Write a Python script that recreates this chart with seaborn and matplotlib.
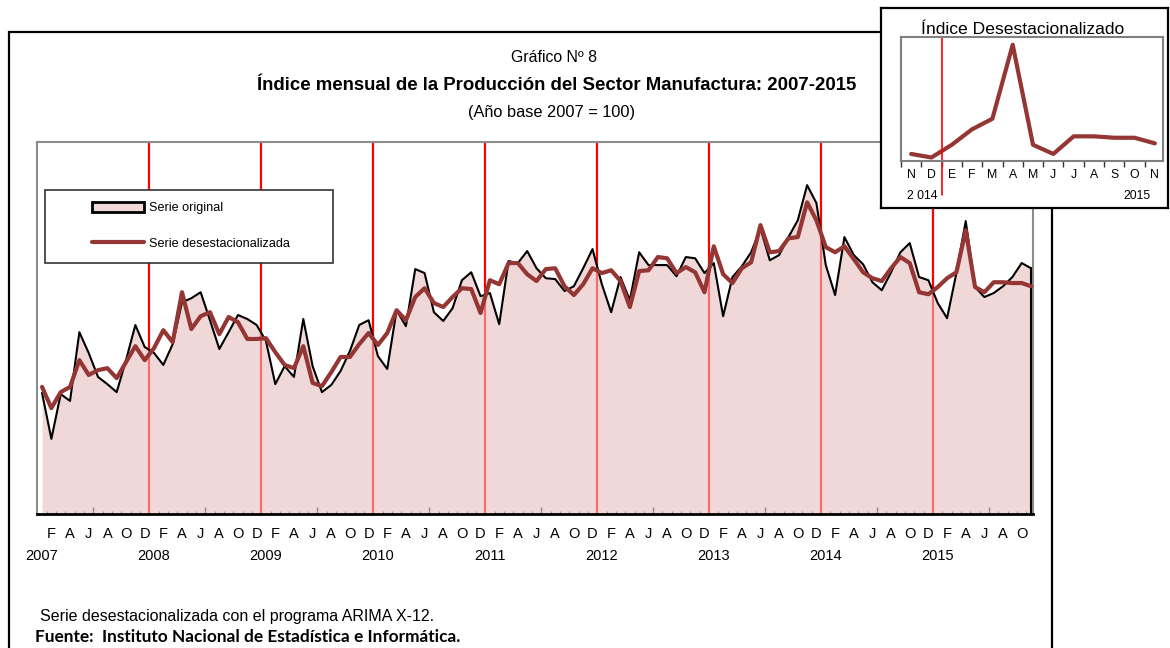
import numpy as np
import matplotlib
matplotlib.use("Agg")
import matplotlib.pyplot as plt
import seaborn as sns
from matplotlib.patches import Patch, Rectangle
from matplotlib.lines import Line2D

# Monthly index, Jan 2007 - Nov 2015 (base 2007 = 100)
SERIE_ORIGINAL = [
    94.8, 83.3, 94.5, 92.8, 110.0, 104.8, 98.8, 97.0, 95.0, 103.0, 111.8, 106.3,
    104.8, 101.8, 107.0, 117.5, 118.5, 120.0, 113.0, 105.8, 110.0, 114.3, 113.3, 111.8,
    107.8, 97.0, 101.5, 98.8, 113.3, 101.5, 95.0, 96.8, 100.3, 105.3, 111.8, 113.0,
    104.0, 100.8, 115.5, 111.5, 125.8, 124.8, 115.0, 112.8, 116.0, 123.0, 125.0, 119.0,
    119.8, 112.0, 127.8, 127.3, 130.3, 126.0, 123.5, 123.3, 120.3, 121.5, 126.0, 130.8,
    122.0, 115.0, 123.8, 118.0, 130.0, 126.8, 126.8, 126.8, 124.0, 128.8, 128.5, 124.8,
    127.3, 114.0, 123.8, 126.5, 130.0, 136.0, 128.0, 129.3, 133.8, 138.0, 146.8, 142.3,
    126.8, 119.3, 133.8, 129.3, 127.0, 122.5, 120.5, 125.0, 130.0, 132.3, 123.8, 123.0,
    117.3, 113.5, 124.8, 137.8, 121.3, 118.8, 119.8, 121.5, 123.8, 127.3, 126.0,
]
SERIE_DESEST = [
    96.3, 91.0, 95.0, 96.3, 103.0, 99.3, 100.5, 101.0, 98.5, 102.5, 106.5, 103.0,
    106.0, 110.5, 107.5, 120.0, 110.8, 114.0, 115.0, 109.5, 113.8, 112.5, 108.3, 108.3,
    108.5, 105.0, 101.8, 101.0, 106.5, 97.3, 96.5, 100.0, 103.8, 103.8, 107.0, 109.8,
    106.8, 109.8, 115.5, 113.0, 118.8, 121.0, 117.3, 116.3, 118.8, 121.0, 120.8, 114.8,
    123.0, 122.0, 127.3, 127.3, 124.5, 122.8, 125.8, 126.0, 121.5, 119.3, 122.0, 126.0,
    124.8, 125.5, 122.8, 116.3, 125.3, 125.5, 128.8, 128.5, 124.8, 126.3, 125.0, 120.0,
    131.5, 124.5, 122.3, 126.0, 127.5, 136.8, 130.0, 130.3, 133.5, 133.8, 142.5, 138.0,
    131.3, 130.0, 131.5, 128.3, 125.0, 123.5, 122.8, 126.0, 128.8, 127.3, 120.0, 119.5,
    121.3, 123.5, 125.0, 135.5, 121.3, 120.0, 122.5, 122.5, 122.3, 122.3, 121.5,
]
YEARS = list(range(2007, 2016))
MONTH_LABELS = ["F", "A", "J", "A", "O", "D"]   # every second month
INSET_LABELS = ["N", "D", "E", "F", "M", "A", "M", "J", "J", "A", "S", "O", "N"]
INSET_YEARS = ["2 014", "2015"]

BROWN = "#943634"
PINK = (0.898, 0.745, 0.737)
W, H = 1170, 648


def fx(px):
    return px / W


def fy(py):
    return 1 - py / H


sns.set_style("white")
plt.rcParams["font.family"] = ["Liberation Sans", "DejaVu Sans"]
plt.rcParams["text.color"] = "black"
plt.rcParams["xtick.color"] = "black"
plt.rcParams["xtick.labelcolor"] = "black"

fig = plt.figure(figsize=(W / 100, H / 100), dpi=100)

# outer frame of the page
bg = fig.add_axes([0, 0, 1, 1], zorder=0)
bg.set_xlim(0, W)
bg.set_ylim(H, 0)
bg.axis("off")
bg.plot([9, 9, 881], [H, 32, 32], color="black", lw=1.6, solid_joinstyle="miter")
bg.plot([1052, 1052], [208, H], color="black", lw=1.6)

# ── main chart ──────────────────────────────────────────
ax = fig.add_axes([fx(37), fy(514), fx(1033) - fx(37), fy(142) - fy(514)], zorder=1)
x = np.arange(len(SERIE_ORIGINAL))
ymin, ymax = 64.5, 157.6

for k in range(1, len(YEARS)):
    ax.axvline(12 * k - 0.5, color="#ff0000", lw=1.6, zorder=1)

ax.fill_between(x, SERIE_ORIGINAL, ymin, color=PINK, alpha=0.59, lw=0, zorder=2)
sns.lineplot(x=x, y=SERIE_ORIGINAL, color="black", lw=1.5, ax=ax, zorder=3)
ax.plot([x[-1], x[-1]], [SERIE_ORIGINAL[-1], ymin], color="black", lw=1.5, zorder=3)
sns.lineplot(x=x, y=SERIE_DESEST, color=BROWN, lw=3, ax=ax, zorder=4)

ax.set_xlim(-0.54, 106.21)
ax.set_ylim(ymin, ymax)
ax.set_xlabel("")
ax.set_ylabel("")
ax.set_yticks([])
for s in ["left", "top", "right"]:
    ax.spines[s].set_color("#8c8c8c")
    ax.spines[s].set_linewidth(1.5)
ax.spines["bottom"].set_color("black")
ax.spines["bottom"].set_linewidth(2)

month_pos = np.arange(1, len(x), 2)
ax.set_xticks(month_pos)
ax.set_xticklabels([MONTH_LABELS[i % 6] for i in range(len(month_pos))])
ax.set_xticks(x[:-1] + 0.5, minor=True)
ax.tick_params(axis="x", which="major", bottom=True, length=0, pad=9, labelsize=10.5)
ax.tick_params(axis="x", which="minor", bottom=True, direction="in", length=2.5,
               width=0.8, color="#555555")
sec = ax.secondary_xaxis("bottom")
sec.set_xticks(5.5 + 12 * np.arange(len(YEARS)))
sec.tick_params(direction="in", length=5, width=1, color="#333333", labelbottom=False)
sec.spines["bottom"].set_visible(False)

for k, yr in enumerate(YEARS):
    ax.text(12 * k, -0.113, str(yr), transform=ax.get_xaxis_transform(),
            ha="center", va="center", fontsize=10.5)

# legend
ax.add_patch(Rectangle((0.008, 0.675), 0.289, 0.196, transform=ax.transAxes,
                       facecolor="white", edgecolor="#333333", lw=1.2, zorder=5))
handles = [Patch(facecolor="#f0d9d8", edgecolor="black", lw=2),
           Line2D([], [], color=BROWN, lw=3)]
leg = ax.legend(handles, ["Serie original", "Serie desestacionalizada"],
                loc="center left", bbox_to_anchor=(0.0552, 0.774), frameon=False,
                borderpad=0, borderaxespad=0, fontsize=9.1, labelspacing=1.85,
                handlelength=4.1, handletextpad=0.4, handleheight=0.75)
leg.set_zorder(6)

# titles and notes
fig.text(fx(554), fy(57), "Gráfico Nº 8", ha="center", va="center", fontsize=11.4)
fig.text(fx(557), fy(85), "Índice mensual de la Producción del Sector Manufactura: 2007-2015",
         ha="center", va="center", fontsize=13.4, fontweight="bold")
fig.text(fx(552), fy(112), "(Año base 2007 = 100)", ha="center", va="center", fontsize=11.8)
fig.text(fx(40), fy(617), "Serie desestacionalizada con el programa ARIMA X-12.",
         ha="left", va="center", fontsize=11.5)
fig.text(fx(35), fy(637), "Fuente:  Instituto Nacional de Estadística e Informática.",
         ha="left", va="center", fontsize=12.4, fontweight="bold",
         family=["Lato", "DejaVu Sans"])

# ── inset: last 13 months of the seasonally adjusted index ─
ib = fig.add_axes([fx(881), fy(208), fx(1168) - fx(881), fy(8) - fy(208)], zorder=2)
ib.set_facecolor("white")
ib.set_xticks([])
ib.set_yticks([])
for s in ib.spines.values():
    s.set_color("black")
    s.set_linewidth(1.6)

ia = fig.add_axes([fx(901), fy(161), fx(1163) - fx(901), fy(37) - fy(161)], zorder=3)
xi = np.arange(len(INSET_LABELS))
sns.lineplot(x=xi, y=SERIE_DESEST[-len(INSET_LABELS):], color=BROWN, lw=3, ax=ia)
ia.axvline(1.5, ymin=-0.274, ymax=1, color="#ff0000", lw=1.2, clip_on=False)
ia.set_xlim(-0.44, 12.4)
ia.set_ylim(119.0, 136.6)
ia.set_xlabel("")
ia.set_ylabel("")
ia.set_yticks([])
ia.set_xticks(xi)
ia.set_xticklabels(INSET_LABELS)
ia.set_xticks(np.arange(-0.5, 12.4, 1), minor=True)
ia.tick_params(axis="x", which="major", bottom=True, length=0, pad=6, labelsize=8.8)
ia.tick_params(axis="x", which="minor", bottom=True, direction="out", length=4,
               width=1, color="#333333")
for s in ia.spines.values():
    s.set_color("#808080")
    s.set_linewidth(1.5)

fig.text(fx(922), fy(196), INSET_YEARS[0], ha="center", va="center", fontsize=8.8, zorder=10)
fig.text(fx(1137), fy(196), INSET_YEARS[1], ha="center", va="center", fontsize=8.8, zorder=10)
fig.text(fx(921), fy(29), "Índice Desestacionalizado", ha="left", va="center",
         fontsize=12.6, zorder=10)

fig.savefig("out.png", dpi=100)
